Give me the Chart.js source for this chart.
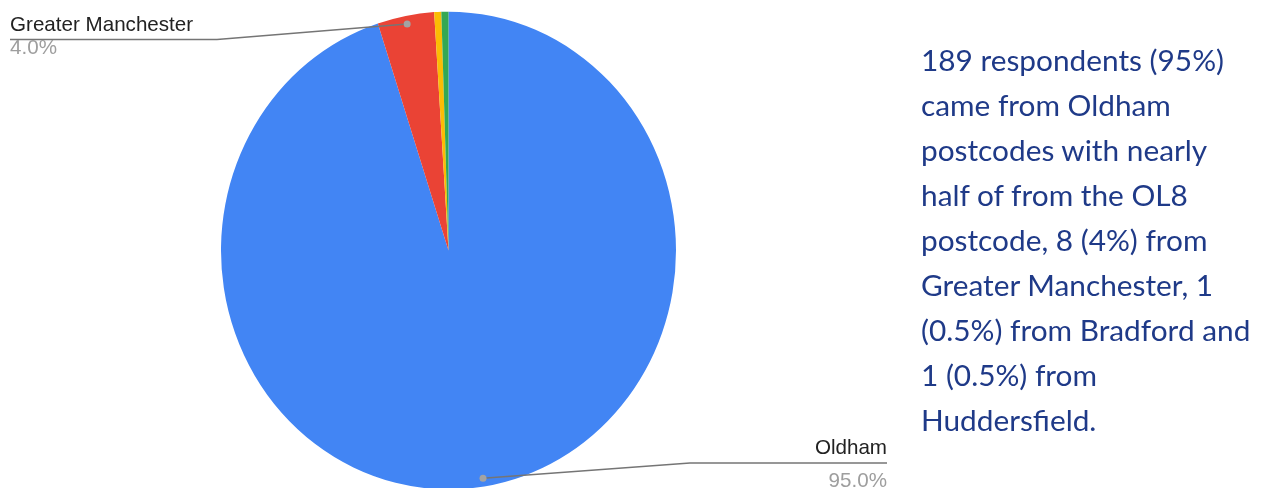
<!DOCTYPE html>
<html>
<head>
<meta charset="utf-8">
<script src="https://cdn.jsdelivr.net/npm/chart.js@4"></script>
<style>
  html, body { margin: 0; padding: 0; background: #fff; }
  #wrap { position: relative; width: 1263px; height: 488px; overflow: hidden; }
  #note {
    position: absolute; left: 921px; top: 37px;
    font-family: Lato, "Open Sans", sans-serif; font-size: 29.8px; line-height: 45px;
    color: #1f3a88; white-space: nowrap;
  }
</style>
</head>
<body>
<div id="wrap">
  <canvas id="myChart" width="1263" height="488"></canvas>
  <div id="note"></div>
</div>
<script>
const labels = ['Oldham', 'Greater Manchester', 'Bradford', 'Huddersfield'];
const values = [189, 8, 1, 1];
const colours = ['#4285F4', '#EA4335', '#FBBC04', '#34A853'];
const noteLines = [
    '189 respondents (95%)',
    'came from Oldham',
    'postcodes with nearly',
    'half of from the OL8',
    'postcode, 8 (4%) from',
    'Greater Manchester, 1',
    '(0.5%) from Bradford and',
    '1 (0.5%) from',
    'Huddersfield.'
];

document.getElementById('note').innerHTML = noteLines.join('<br>');

// pie in the picture is a little taller than wide
const yStretch = 1.05;
const total = values.reduce((a, b) => a + b, 0);

const stretch = {
    id: 'stretch',
    beforeDatasetsDraw(chart) {
        const arc = chart.getDatasetMeta(0).data[0];
        const ctx = chart.ctx;
        ctx.save();
        ctx.translate(arc.x, arc.y);
        ctx.scale(1, yStretch);
        ctx.translate(-arc.x, -arc.y);
    },
    afterDatasetsDraw(chart) {
        chart.ctx.restore();
    }
};

// callout labels like the Google Sheets export
const callouts = {
    id: 'callouts',
    afterDraw(chart) {
        const ctx = chart.ctx;
        const arcs = chart.getDatasetMeta(0).data;
        const spots = {
            0: { elbow: [690, 463], end: [887, 463], tx: 887, align: 'right', ny: 448, py: 481 },
            1: { elbow: [217, 39.5], end: [10, 39.5], tx: 10, align: 'left', ny: 25, py: 48 }
        };
        Object.keys(spots).forEach(k => {
            const i = +k;
            const s = spots[k];
            const a = arcs[i];
            const mid = (a.startAngle + a.endAngle) / 2;
            const r = a.outerRadius * 0.965;
            const dx = a.x + Math.cos(mid) * r;
            const dy = a.y + Math.sin(mid) * r * yStretch;

            ctx.save();
            ctx.strokeStyle = '#757575';
            ctx.lineWidth = 1.5;
            ctx.beginPath();
            ctx.moveTo(dx, dy);
            ctx.lineTo(s.elbow[0], s.elbow[1]);
            ctx.lineTo(s.end[0], s.end[1]);
            ctx.stroke();

            ctx.fillStyle = '#a3a3a3';
            ctx.beginPath();
            ctx.arc(dx, dy, 3.5, 0, Math.PI * 2);
            ctx.fill();

            ctx.textAlign = s.align;
            ctx.textBaseline = 'middle';
            ctx.font = '20.6px "Liberation Sans", Arial, sans-serif';
            ctx.fillStyle = '#222222';
            ctx.fillText(labels[i], s.tx, s.ny);
            ctx.fillStyle = '#9e9e9e';
            ctx.fillText((values[i] / total * 100).toFixed(1) + '%', s.tx, s.py);
            ctx.restore();
        });
    }
};

const ctx = document.getElementById('myChart').getContext('2d');
new Chart(ctx, {
    type: 'pie',
    data: {
        labels: labels,
        datasets: [{
            data: values,
            backgroundColor: colours,
            borderWidth: 0
        }]
    },
    options: {
        responsive: false,
        animation: false,
        layout: {
            padding: { left: 221, right: 587, top: 23, bottom: 10 }
        },
        plugins: {
            legend: { display: false },
            tooltip: { enabled: false }
        }
    },
    plugins: [stretch, callouts]
});
</script>
</body>
</html>
